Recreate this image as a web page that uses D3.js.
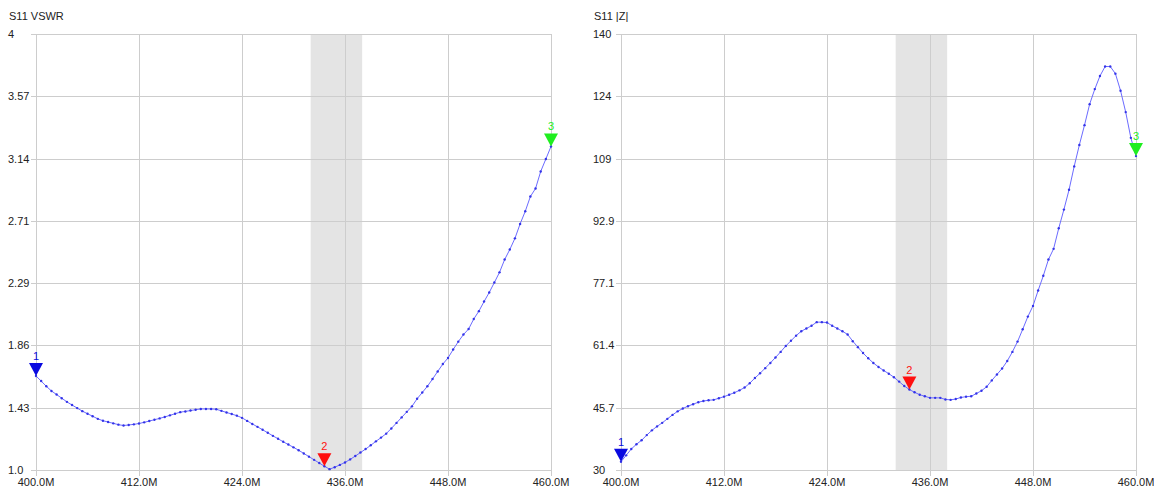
<!DOCTYPE html>
<html>
<head>
<meta charset="utf-8">
<script src="https://cdn.jsdelivr.net/npm/d3@7"></script>
<style>
    body { margin: 0; background: #fff; }
    svg text { font-family: "Liberation Sans", Arial, sans-serif; font-size: 11px; fill: #222; }
</style>
</head>
<body>
<script>
//
// SET SWEEP (400 MHz .. 460 MHz, 101 points)
const FREQ_START = 400;
const FREQ_STOP = 460;
const POINTS = 101;
//
// SET DATA
const VSWR_VALUES = [
    1.647, 1.612, 1.576, 1.544, 1.519, 1.494, 1.469, 1.447, 1.426, 1.405,
    1.387, 1.370, 1.352, 1.339, 1.330, 1.321, 1.312, 1.306, 1.310, 1.314,
    1.320, 1.328, 1.337, 1.346, 1.355, 1.365, 1.376, 1.387, 1.398, 1.403,
    1.409, 1.415, 1.420, 1.420, 1.420, 1.418, 1.407, 1.396, 1.385, 1.374,
    1.359, 1.338, 1.317, 1.297, 1.277, 1.256, 1.235, 1.215, 1.194, 1.175,
    1.156, 1.136, 1.114, 1.092, 1.070, 1.048, 1.026, 1.006, 1.019, 1.035,
    1.052, 1.073, 1.096, 1.120, 1.144, 1.170, 1.197, 1.223, 1.250, 1.286,
    1.324, 1.362, 1.400, 1.438, 1.490, 1.533, 1.576, 1.626, 1.678, 1.729,
    1.771, 1.829, 1.883, 1.932, 1.970, 2.039, 2.093, 2.159, 2.221, 2.290,
    2.360, 2.448, 2.517, 2.594, 2.693, 2.780, 2.882, 2.937, 3.054, 3.140,
    3.226
];
const Z_VALUES = [
    32.1, 33.7, 35.3, 36.5, 37.5, 38.8, 40.0, 41.0, 41.9, 42.9,
    43.9, 44.8, 45.5, 46.1, 46.6, 47.1, 47.4, 47.6, 47.7, 48.1,
    48.5, 49.0, 49.5, 50.1, 50.8, 51.9, 53.2, 54.4, 55.7, 57.0,
    58.4, 59.8, 61.3, 62.6, 63.9, 65.0, 65.7, 66.4, 67.3, 67.3,
    67.2, 66.4, 65.7, 65.0, 64.2, 62.5, 61.0, 59.5, 58.2, 57.0,
    56.0, 55.1, 54.3, 53.4, 52.3, 51.2, 50.3, 49.6, 49.0, 48.6,
    48.2, 48.2, 48.2, 47.8, 47.7, 47.9, 48.3, 48.5, 48.6, 49.3,
    50.0, 51.0, 52.6, 54.1, 55.6, 57.5, 59.8, 62.4, 65.5, 68.7,
    71.4, 75.3, 79.0, 83.1, 85.8, 91.0, 95.7, 100.7, 106.6, 112.0,
    117.0, 122.3, 126.1, 129.4, 131.8, 131.8, 130.0, 125.7, 120.3, 113.8,
    109.2
];
//
// SET TICKS
const X_TICKS = [400, 412, 424, 436, 448, 460];
const X_TICK_LABELS = ['400.0M', '412.0M', '424.0M', '436.0M', '448.0M', '460.0M'];
const VSWR_TICKS = [1.0, 1.4286, 1.8571, 2.2857, 2.7143, 3.1429, 3.5714, 4.0];
const VSWR_TICK_LABELS = ['1.0', '1.43', '1.86', '2.29', '2.71', '3.14', '3.57', '4'];
const Z_TICKS = [30, 45.71, 61.43, 77.14, 92.86, 108.57, 124.29, 140];
const Z_TICK_LABELS = ['30', '45.7', '61.4', '77.1', '92.9', '109', '124', '140'];
//
// SET MARKERS AND BAND
const MARKER_INDEX = [0, 56, 100];
const MARKER_NAMES = ['1', '2', '3'];
const MARKER_COLORS = ['#0a0ae0', '#ff1010', '#20ee20'];
const BAND = [432, 438];

const WIDTH = 1154;
const HEIGHT = 490;

const svg = d3.select('body')
    .append('svg')
    .attr('width', WIDTH)
    .attr('height', HEIGHT);

const freqs = VSWR_VALUES.map(function (d, i) {
    return FREQ_START + i * (FREQ_STOP - FREQ_START) / (POINTS - 1);
});

function drawPanel(cfg) {
    const g = svg.append('g');
    const x = d3.scaleLinear().domain([FREQ_START, FREQ_STOP]).range([cfg.left, cfg.right]);
    const y = d3.scaleLinear().domain([cfg.ticks[0], cfg.ticks[cfg.ticks.length - 1]]).range([470, 34]);
    const px = function (v) { return Math.round(v) + 0.5; };
    //
    // band
    g.append('rect')
        .attr('x', x(BAND[0]))
        .attr('y', 34)
        .attr('width', x(BAND[1]) - x(BAND[0]))
        .attr('height', 436)
        .attr('fill', '#e4e4e4');
    //
    // grid
    g.selectAll('.hgrid')
        .data(cfg.ticks)
        .enter()
        .append('line')
        .attr('x1', cfg.left - 5)
        .attr('x2', cfg.right)
        .attr('y1', function (d) { return px(y(d)); })
        .attr('y2', function (d) { return px(y(d)); })
        .attr('stroke', '#cdcdcd');
    g.selectAll('.vgrid')
        .data(X_TICKS)
        .enter()
        .append('line')
        .attr('x1', function (d) { return px(x(d)); })
        .attr('x2', function (d) { return px(x(d)); })
        .attr('y1', 34)
        .attr('y2', 476)
        .attr('stroke', '#cdcdcd');
    //
    // tick labels
    g.selectAll('.ylab')
        .data(cfg.ticks)
        .enter()
        .append('text')
        .attr('x', cfg.labelX)
        .attr('y', function (d) { return y(d) + 4; })
        .text(function (d, i) { return cfg.tickLabels[i]; });
    g.selectAll('.xlab')
        .data(X_TICKS)
        .enter()
        .append('text')
        .attr('x', function (d) { return x(d); })
        .attr('y', 486)
        .attr('text-anchor', 'middle')
        .text(function (d, i) { return X_TICK_LABELS[i]; });
    g.append('text')
        .attr('x', cfg.labelX + 1)
        .attr('y', 20)
        .text(cfg.title);
    //
    // trace
    const line = d3.line()
        .x(function (d, i) { return x(freqs[i]); })
        .y(function (d) { return y(d); });
    g.append('path')
        .datum(cfg.values)
        .attr('d', line)
        .attr('fill', 'none')
        .attr('stroke', '#6b6bff')
        .attr('stroke-width', 1);
    g.selectAll('.dot')
        .data(cfg.values)
        .enter()
        .append('circle')
        .attr('cx', function (d, i) { return x(freqs[i]); })
        .attr('cy', function (d) { return y(d); })
        .attr('r', 1.2)
        .attr('fill', '#3434e8');
    //
    // markers
    MARKER_INDEX.forEach(function (idx, k) {
        const mx = x(freqs[idx]);
        const my = y(cfg.values[idx]);
        g.append('path')
            .attr('d', 'M' + (mx - 7) + ',' + (my - 13) + 'L' + (mx + 7) + ',' + (my - 13) + 'L' + mx + ',' + my + 'Z')
            .attr('fill', MARKER_COLORS[k]);
        g.append('text')
            .attr('x', mx)
            .attr('y', my - 16)
            .attr('text-anchor', 'middle')
            .style('fill', MARKER_COLORS[k])
            .text(MARKER_NAMES[k]);
    });
}

drawPanel({
    left: 36, right: 551, labelX: 8, title: 'S11 VSWR',
    values: VSWR_VALUES, ticks: VSWR_TICKS, tickLabels: VSWR_TICK_LABELS
});
drawPanel({
    left: 621, right: 1136, labelX: 593, title: 'S11 |Z|',
    values: Z_VALUES, ticks: Z_TICKS, tickLabels: Z_TICK_LABELS
});
</script>
</body>
</html>
